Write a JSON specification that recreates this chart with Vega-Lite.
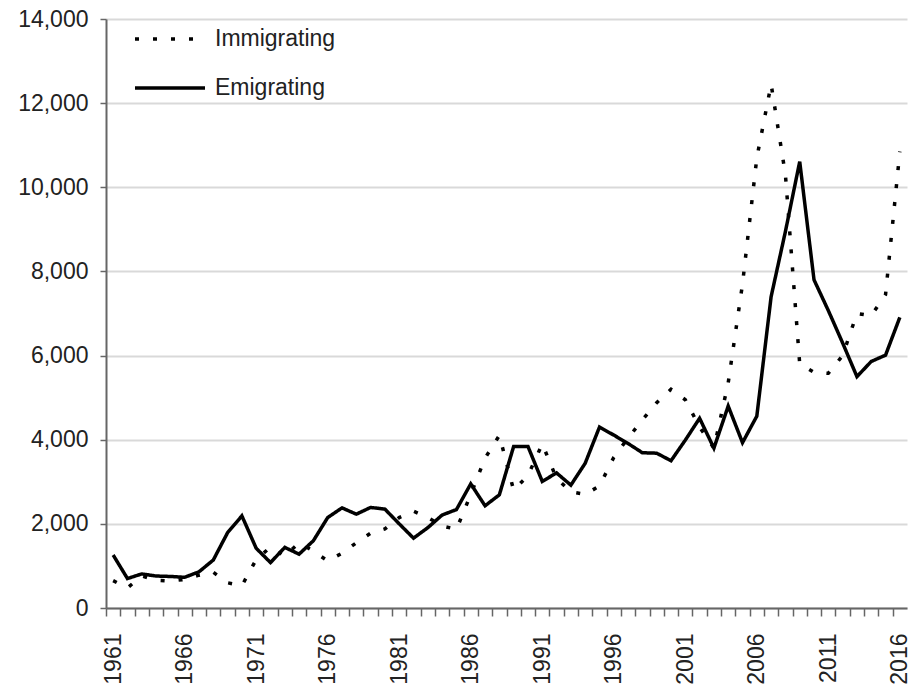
{
  "$schema": "https://vega.github.io/schema/vega-lite/v6.json",
  "width": 801,
  "height": 589,
  "autosize": {"type": "none"},
  "padding": {"left": 106, "top": 19, "right": 9, "bottom": 78},
  "background": "white",
  "config": {
    "view": {"stroke": null},
    "font": "Liberation Sans",
    "axis": {"labelFont": "Liberation Sans", "labelFontSize": 23, "labelColor": "#222222", "domainColor": "#666666", "domainWidth": 2, "tickColor": "#666666", "tickWidth": 1.5}
  },
  "datasets": {
    "migration": [
      {"year": 1961, "series": "Immigrating", "value": 650},
      {"year": 1962, "series": "Immigrating", "value": 480},
      {"year": 1963, "series": "Immigrating", "value": 760},
      {"year": 1964, "series": "Immigrating", "value": 660},
      {"year": 1965, "series": "Immigrating", "value": 640},
      {"year": 1966, "series": "Immigrating", "value": 680},
      {"year": 1967, "series": "Immigrating", "value": 780},
      {"year": 1968, "series": "Immigrating", "value": 850},
      {"year": 1969, "series": "Immigrating", "value": 600},
      {"year": 1970, "series": "Immigrating", "value": 530},
      {"year": 1971, "series": "Immigrating", "value": 1150},
      {"year": 1972, "series": "Immigrating", "value": 1450},
      {"year": 1973, "series": "Immigrating", "value": 1230},
      {"year": 1974, "series": "Immigrating", "value": 1550},
      {"year": 1975, "series": "Immigrating", "value": 1350},
      {"year": 1976, "series": "Immigrating", "value": 1120},
      {"year": 1977, "series": "Immigrating", "value": 1300},
      {"year": 1978, "series": "Immigrating", "value": 1550},
      {"year": 1979, "series": "Immigrating", "value": 1780},
      {"year": 1980, "series": "Immigrating", "value": 1880},
      {"year": 1981, "series": "Immigrating", "value": 2150},
      {"year": 1982, "series": "Immigrating", "value": 2300},
      {"year": 1983, "series": "Immigrating", "value": 2150},
      {"year": 1984, "series": "Immigrating", "value": 1950},
      {"year": 1985, "series": "Immigrating", "value": 1870},
      {"year": 1986, "series": "Immigrating", "value": 2700},
      {"year": 1987, "series": "Immigrating", "value": 3560},
      {"year": 1988, "series": "Immigrating", "value": 4100},
      {"year": 1989, "series": "Immigrating", "value": 2800},
      {"year": 1990, "series": "Immigrating", "value": 3150},
      {"year": 1991, "series": "Immigrating", "value": 3900},
      {"year": 1992, "series": "Immigrating", "value": 3080},
      {"year": 1993, "series": "Immigrating", "value": 2760},
      {"year": 1994, "series": "Immigrating", "value": 2700},
      {"year": 1995, "series": "Immigrating", "value": 2900},
      {"year": 1996, "series": "Immigrating", "value": 3580},
      {"year": 1997, "series": "Immigrating", "value": 4040},
      {"year": 1998, "series": "Immigrating", "value": 4470},
      {"year": 1999, "series": "Immigrating", "value": 4880},
      {"year": 2000, "series": "Immigrating", "value": 5200},
      {"year": 2001, "series": "Immigrating", "value": 4950},
      {"year": 2002, "series": "Immigrating", "value": 4300},
      {"year": 2003, "series": "Immigrating", "value": 3800},
      {"year": 2004, "series": "Immigrating", "value": 5350},
      {"year": 2005, "series": "Immigrating", "value": 7700},
      {"year": 2006, "series": "Immigrating", "value": 10700},
      {"year": 2007, "series": "Immigrating", "value": 12450},
      {"year": 2008, "series": "Immigrating", "value": 10300},
      {"year": 2009, "series": "Immigrating", "value": 5800},
      {"year": 2010, "series": "Immigrating", "value": 5600},
      {"year": 2011, "series": "Immigrating", "value": 5580},
      {"year": 2012, "series": "Immigrating", "value": 6000},
      {"year": 2013, "series": "Immigrating", "value": 7000},
      {"year": 2014, "series": "Immigrating", "value": 6950},
      {"year": 2015, "series": "Immigrating", "value": 7450},
      {"year": 2016, "series": "Immigrating", "value": 10850},
      {"year": 1961, "series": "Emigrating", "value": 1260},
      {"year": 1962, "series": "Emigrating", "value": 700},
      {"year": 1963, "series": "Emigrating", "value": 810},
      {"year": 1964, "series": "Emigrating", "value": 760},
      {"year": 1965, "series": "Emigrating", "value": 750},
      {"year": 1966, "series": "Emigrating", "value": 730},
      {"year": 1967, "series": "Emigrating", "value": 860},
      {"year": 1968, "series": "Emigrating", "value": 1140},
      {"year": 1969, "series": "Emigrating", "value": 1790},
      {"year": 1970, "series": "Emigrating", "value": 2190},
      {"year": 1971, "series": "Emigrating", "value": 1420},
      {"year": 1972, "series": "Emigrating", "value": 1080},
      {"year": 1973, "series": "Emigrating", "value": 1440},
      {"year": 1974, "series": "Emigrating", "value": 1280},
      {"year": 1975, "series": "Emigrating", "value": 1600},
      {"year": 1976, "series": "Emigrating", "value": 2150},
      {"year": 1977, "series": "Emigrating", "value": 2380},
      {"year": 1978, "series": "Emigrating", "value": 2230},
      {"year": 1979, "series": "Emigrating", "value": 2390},
      {"year": 1980, "series": "Emigrating", "value": 2350},
      {"year": 1981, "series": "Emigrating", "value": 2000},
      {"year": 1982, "series": "Emigrating", "value": 1660},
      {"year": 1983, "series": "Emigrating", "value": 1910},
      {"year": 1984, "series": "Emigrating", "value": 2210},
      {"year": 1985, "series": "Emigrating", "value": 2340},
      {"year": 1986, "series": "Emigrating", "value": 2950},
      {"year": 1987, "series": "Emigrating", "value": 2430},
      {"year": 1988, "series": "Emigrating", "value": 2690},
      {"year": 1989, "series": "Emigrating", "value": 3840},
      {"year": 1990, "series": "Emigrating", "value": 3840},
      {"year": 1991, "series": "Emigrating", "value": 3010},
      {"year": 1992, "series": "Emigrating", "value": 3210},
      {"year": 1993, "series": "Emigrating", "value": 2920},
      {"year": 1994, "series": "Emigrating", "value": 3440},
      {"year": 1995, "series": "Emigrating", "value": 4300},
      {"year": 1996, "series": "Emigrating", "value": 4110},
      {"year": 1997, "series": "Emigrating", "value": 3910},
      {"year": 1998, "series": "Emigrating", "value": 3690},
      {"year": 1999, "series": "Emigrating", "value": 3680},
      {"year": 2000, "series": "Emigrating", "value": 3500},
      {"year": 2001, "series": "Emigrating", "value": 3990},
      {"year": 2002, "series": "Emigrating", "value": 4510},
      {"year": 2003, "series": "Emigrating", "value": 3800},
      {"year": 2004, "series": "Emigrating", "value": 4800},
      {"year": 2005, "series": "Emigrating", "value": 3930},
      {"year": 2006, "series": "Emigrating", "value": 4560},
      {"year": 2007, "series": "Emigrating", "value": 7400},
      {"year": 2008, "series": "Emigrating", "value": 8950},
      {"year": 2009, "series": "Emigrating", "value": 10610},
      {"year": 2010, "series": "Emigrating", "value": 7800},
      {"year": 2011, "series": "Emigrating", "value": 7070},
      {"year": 2012, "series": "Emigrating", "value": 6300},
      {"year": 2013, "series": "Emigrating", "value": 5500},
      {"year": 2014, "series": "Emigrating", "value": 5860},
      {"year": 2015, "series": "Emigrating", "value": 6010},
      {"year": 2016, "series": "Emigrating", "value": 6910}
    ]
  },
  "data": {"name": "migration"},
  "mark": {"type": "line", "color": "black", "strokeWidth": 3.5, "clip": false},
  "encoding": {
    "x": {
      "field": "year",
      "type": "quantitative",
      "scale": {"domain": [1960.5, 2016.5], "nice": false, "zero": false},
      "axis": {
        "title": null,
        "grid": false,
        "values": [1961,1962,1963,1964,1965,1966,1967,1968,1969,1970,1971,1972,1973,1974,1975,1976,1977,1978,1979,1980,1981,1982,1983,1984,1985,1986,1987,1988,1989,1990,1991,1992,1993,1994,1995,1996,1997,1998,1999,2000,2001,2002,2003,2004,2005,2006,2007,2008,2009,2010,2011,2012,2013,2014,2015,2016,2017],
        "labelExpr": "(datum.value - 1961) % 5 == 0 ? '' + datum.value : ''",
        "labelAngle": -90,
        "labelOverlap": false,
        "labelPadding": 17,
        "tickSize": 8,
        "tickOffset": -7.15,
        "labelOffset": 7
      }
    },
    "y": {
      "field": "value",
      "type": "quantitative",
      "scale": {"domain": [0, 14000], "nice": false},
      "axis": {
        "title": null,
        "values": [0, 2000, 4000, 6000, 8000, 10000, 12000, 14000],
        "format": ",d",
        "grid": true,
        "gridColor": "#d9d9d9",
        "gridWidth": 2,
        "tickSize": 6,
        "labelPadding": 12
      }
    },
    "strokeDash": {
      "field": "series",
      "type": "nominal",
      "scale": {"domain": ["Immigrating", "Emigrating"], "range": [[4, 14], [1, 0]]},
      "legend": {
        "title": null,
        "orient": "none",
        "legendX": 27,
        "legendY": -17,
        "symbolType": "stroke",
        "symbolSize": 4900,
        "symbolStrokeColor": "black",
        "symbolStrokeWidth": 3.5,
        "labelFont": "Liberation Sans",
        "labelFontSize": 23,
        "labelColor": "#222222",
        "labelOffset": 8,
        "rowPadding": 0
      }
    }
  }
}
